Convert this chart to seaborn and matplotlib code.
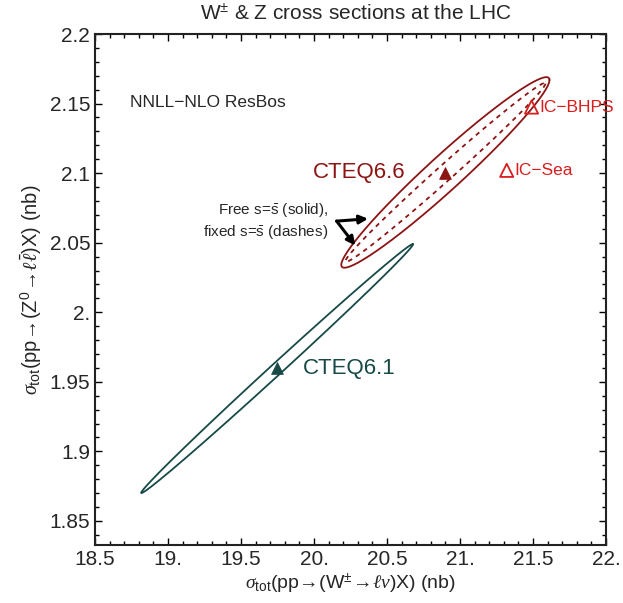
import numpy as np
import pandas as pd
import matplotlib
matplotlib.use("Agg")
import matplotlib.pyplot as plt
from matplotlib.ticker import MultipleLocator, FixedLocator
import seaborn as sns

# ---- data ----
ellipse_names = ["CTEQ6.1", "CTEQ6.6 free", "CTEQ6.6 fixed"]
ellipse_cx = [19.747, 20.90, 20.90]
ellipse_cy = [1.9595, 2.1005, 2.1005]
ellipse_sx = [0.931, 0.713, 0.685]
ellipse_sy = [0.0895, 0.0685, 0.0643]
ellipse_rho = [0.998, 0.970, 0.9930]

point_names = ["CTEQ6.1", "CTEQ6.6", "IC-BHPS", "IC-Sea"]
point_x = [19.747, 20.90, 21.49, 21.32]
point_y = [1.960, 2.100, 2.1475, 2.102]

x_ticks = [18.5, 19.0, 19.5, 20.0, 20.5, 21.0, 21.5, 22.0]
x_ticklabels = ["18.5", "19.", "19.5", "20.", "20.5", "21.", "21.5", "22."]
y_ticks = [1.85, 1.9, 1.95, 2.0, 2.05, 2.1, 2.15, 2.2]
y_ticklabels = ["1.85", "1.9", "1.95", "2.", "2.05", "2.1", "2.15", "2.2"]

# ---- style ----
sns.set_style("ticks")
plt.rcParams["font.family"] = ["Liberation Sans", "DejaVu Sans"]
plt.rcParams["mathtext.fontset"] = "custom"
plt.rcParams["mathtext.rm"] = "Liberation Sans"
plt.rcParams["mathtext.it"] = "Liberation Serif:italic"
plt.rcParams["mathtext.bf"] = "Liberation Sans:bold"

RED_DARK = "#8c1414"
TEAL = "#174a47"
RED = "#d81e1e"

fig = plt.figure(figsize=(6.23, 6.03), dpi=100)
ax = fig.add_axes([0.1525, 0.0962, 0.8202, 0.8474])

t = np.linspace(0, 2 * np.pi, 400)
styles = [(TEAL, "-"), (RED_DARK, "-"), (RED_DARK, (0, (2.5, 2.5)))]
for i, name in enumerate(ellipse_names):
    phi = np.arccos(ellipse_rho[i])
    ex = ellipse_cx[i] + ellipse_sx[i] * np.cos(t)
    ey = ellipse_cy[i] + ellipse_sy[i] * np.cos(t + phi)
    df = pd.DataFrame({"x": ex, "y": ey})
    col, ls = styles[i]
    sns.lineplot(data=df, x="x", y="y", sort=False, estimator=None, ax=ax,
                 color=col, linewidth=1.3, linestyle=ls)

pdf = pd.DataFrame({"x": point_x, "y": point_y, "name": point_names})
sns.scatterplot(data=pdf.iloc[[0]], x="x", y="y", marker="^", s=70, color=TEAL,
                edgecolor=TEAL, ax=ax, zorder=5)
sns.scatterplot(data=pdf.iloc[[1]], x="x", y="y", marker="^", s=70, color=RED_DARK,
                edgecolor=RED_DARK, ax=ax, zorder=5)
sns.scatterplot(data=pdf.iloc[[2, 3]], x="x", y="y", marker="^", s=90,
                facecolor="none", edgecolor=RED, linewidth=1.3, ax=ax, zorder=5)

# labels
ax.text(21.545, 2.1475, "IC\u2212BHPS", color=RED, fontsize=12.5, va="center", ha="left",
        clip_on=False)
ax.text(21.375, 2.102, "IC\u2212Sea", color=RED, fontsize=12.5, va="center", ha="left")
ax.text(18.74, 2.151, "NNLL\u2212NLO ResBos", fontsize=12.5, va="center", ha="left")
ax.text(19.99, 2.1008, "CTEQ6.6", color=RED_DARK, fontsize=16, va="center", ha="left")
ax.text(19.925, 1.9595, "CTEQ6.1", color=TEAL, fontsize=16, va="center", ha="left")
ax.text(20.096, 2.0735, "Free s=$\\bar{\\rm s}$ (solid),", fontsize=11, va="center", ha="right")
ax.text(20.096, 2.0577, "fixed s=$\\bar{\\rm s}$ (dashes)", fontsize=11, va="center", ha="right")

arrow_kw = dict(arrowstyle="-|>,head_length=0.5,head_width=0.25", lw=2.2, color="black",
                shrinkA=0, shrinkB=0)
ax.annotate("", xy=(20.37, 2.0672), xytext=(20.155, 2.0655), arrowprops=arrow_kw)
ax.annotate("", xy=(20.283, 2.0480), xytext=(20.155, 2.0655), arrowprops=arrow_kw)

ax.set_xlim(18.5, 22.0)
ax.set_ylim(1.8327, 2.2)
ax.xaxis.set_major_locator(FixedLocator(x_ticks))
ax.yaxis.set_major_locator(FixedLocator(y_ticks))
ax.set_xticklabels(x_ticklabels)
ax.set_yticklabels(y_ticklabels)
ax.xaxis.set_minor_locator(MultipleLocator(0.1))
ax.yaxis.set_minor_locator(MultipleLocator(0.01))
ax.tick_params(which="both", direction="in", top=True, right=True, labelsize=15,
               color="black", width=1.0)
ax.tick_params(which="major", length=5)
ax.tick_params(which="minor", length=3)
for sp in ax.spines.values():
    sp.set_linewidth(1.5)
    sp.set_color("#222222")

ax.set_xlabel("$\\sigma_{\\rm tot}$(pp$\\!\\rightarrow\\!$(W$^{\\pm}\\!\\rightarrow\\!\\ell\\nu$)X) (nb)",
              fontsize=14, labelpad=2)
ax.set_ylabel("$\\sigma_{\\rm tot}$(pp$\\!\\rightarrow\\!$(Z$^{0}\\!\\rightarrow\\!\\ell\\bar{\\ell}$)X) (nb)",
              fontsize=14.5, labelpad=4)
fig.text(0.571, 0.979, "W$^{\\pm}$ & Z cross sections at the LHC", fontsize=15,
         ha="center", va="center")

fig.savefig("out.png", dpi=100)
